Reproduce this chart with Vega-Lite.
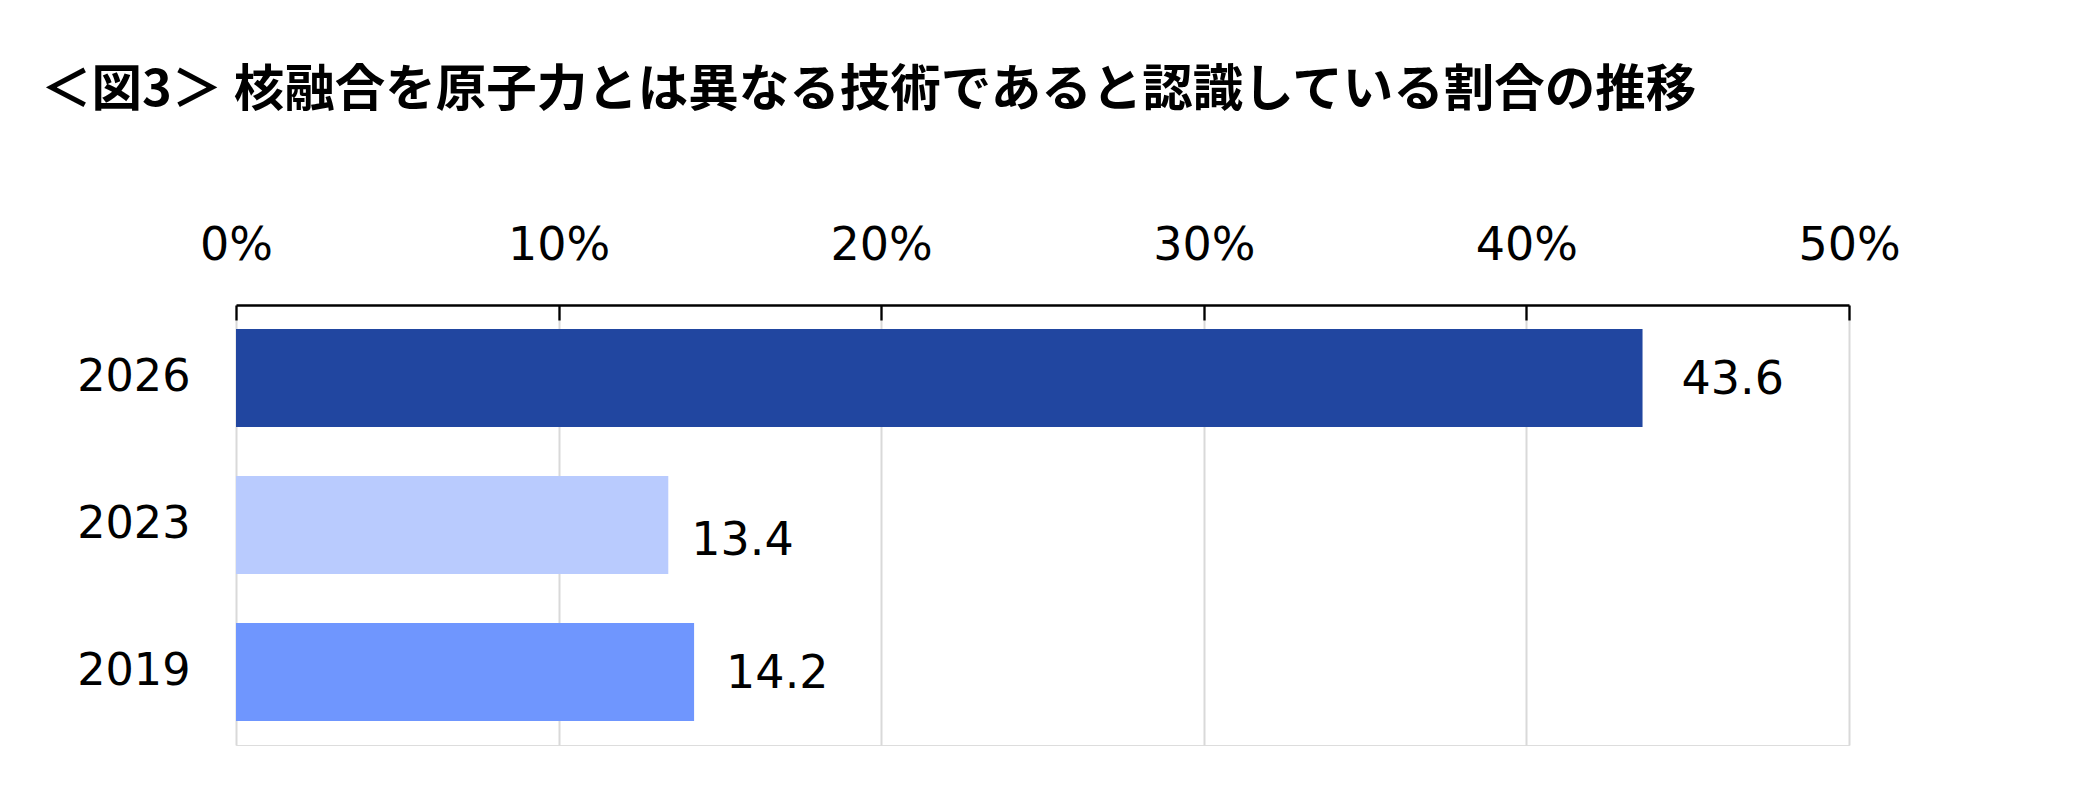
{
  "$schema": "https://vega.github.io/schema/vega-lite/v6.json",
  "autosize": {"type": "none"},
  "padding": {"left": 236, "top": 305, "right": 236, "bottom": 52},
  "width": 1613,
  "height": 440,
  "background": "white",
  "title": {
    "text": "＜図3＞ 核融合を原子力とは異なる技術であると認識している割合の推移",
    "font": "Noto Sans CJK JP",
    "fontWeight": "bold",
    "fontSize": 50.5,
    "color": "black",
    "anchor": "start",
    "frame": "group",
    "baseline": "alphabetic",
    "dx": -195,
    "offset": 66
  },
  "data": {
    "values": [
      {"year": "2026", "value": 43.6},
      {"year": "2023", "value": 13.4},
      {"year": "2019", "value": 14.2}
    ]
  },
  "encoding": {
    "y": {
      "field": "year",
      "type": "nominal",
      "sort": ["2026", "2023", "2019"],
      "scale": {"paddingInner": 0.333, "paddingOuter": 0.163},
      "axis": {
        "title": null,
        "domain": false,
        "ticks": false,
        "grid": false,
        "labelFont": "DejaVu Sans",
        "labelFontSize": 44.5,
        "labelColor": "black",
        "labelPadding": 46
      }
    },
    "x": {
      "field": "value",
      "type": "quantitative",
      "scale": {"domain": [0, 50], "nice": false},
      "axis": {
        "orient": "top",
        "title": null,
        "values": [0, 10, 20, 30, 40, 50],
        "labelExpr": "datum.value + '%'",
        "labelFont": "DejaVu Sans",
        "labelFontSize": 46,
        "labelColor": "black",
        "labelBaseline": "alphabetic",
        "labelPadding": 61,
        "labelFlush": false,
        "labelOverlap": false,
        "domainColor": "black",
        "domainWidth": 2.3,
        "tickColor": "black",
        "tickWidth": 2.3,
        "tickSize": -15,
        "grid": true,
        "gridColor": "#D9D9D9",
        "gridWidth": 2
      }
    }
  },
  "layer": [
    {
      "mark": {"type": "bar"},
      "encoding": {
        "color": {
          "field": "year",
          "type": "nominal",
          "scale": {"domain": ["2026", "2023", "2019"], "range": ["#2146A0", "#B9CBFE", "#6F96FE"]},
          "legend": null
        }
      }
    },
    {
      "transform": [{"filter": "datum.year == '2026'"}],
      "mark": {"type": "text", "align": "left", "baseline": "middle", "dx": 39, "dy": 2, "font": "DejaVu Sans", "fontSize": 46, "color": "black"},
      "encoding": {"text": {"field": "value", "type": "quantitative", "format": ".1f"}}
    },
    {
      "transform": [{"filter": "datum.year == '2023'"}],
      "mark": {"type": "text", "align": "left", "baseline": "middle", "dx": 23, "dy": 16, "font": "DejaVu Sans", "fontSize": 46, "color": "black"},
      "encoding": {"text": {"field": "value", "type": "quantitative", "format": ".1f"}}
    },
    {
      "transform": [{"filter": "datum.year == '2019'"}],
      "mark": {"type": "text", "align": "left", "baseline": "middle", "dx": 32, "dy": 2, "font": "DejaVu Sans", "fontSize": 46, "color": "black"},
      "encoding": {"text": {"field": "value", "type": "quantitative", "format": ".1f"}}
    }
  ]
}
